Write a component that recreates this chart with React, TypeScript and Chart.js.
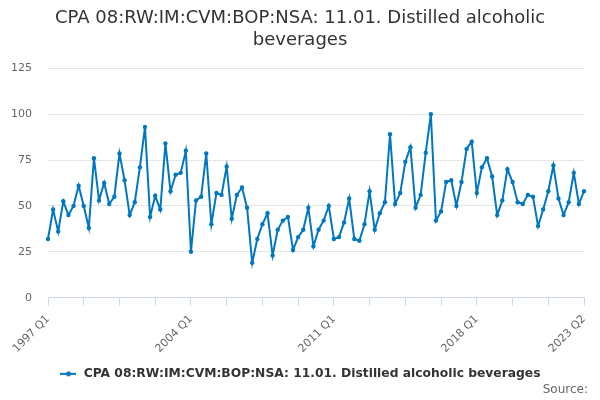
import React, { useEffect, useRef } from "react";
import { Chart, registerables } from "chart.js";

Chart.register(...registerables);

// quarters 1997 Q1 .. 2023 Q2
const years = Array.from({ length: 27 }, (_, i) => 1997 + i);
const quarters = years.flatMap((y) => ["Q1", "Q2", "Q3", "Q4"].map((q) => `${y} ${q}`)).slice(0, 106);

const values = [
  32, 48, 36, 52.5, 45, 50, 61, 50, 38, 76, 53, 62.5, 51, 55, 78.5, 64,
  45, 52, 71, 93, 44, 55.5, 48, 84, 58, 67, 68, 80, 25, 53, 55, 78.5,
  40, 57, 56, 71.5, 43, 56, 60, 49, 19, 32, 40, 46, 23, 37, 42, 44,
  26, 33, 37, 49, 28, 37, 42, 50, 32, 33, 41, 54, 32, 31, 40, 58,
  37, 46, 52, 89, 51, 57, 74, 82, 49, 56, 79, 100, 42, 47, 63, 64,
  50, 63, 81, 85, 57, 71, 76, 66, 45, 53, 70, 63, 52, 51, 56, 55,
  39, 48, 58, 72, 54, 45, 52, 68, 51, 58,
];

const seriesName = "CPA 08:RW:IM:CVM:BOP:NSA: 11.01. Distilled alcoholic beverages";
const titleLines = ["CPA 08:RW:IM:CVM:BOP:NSA: 11.01. Distilled alcoholic", "beverages"];
const sourceText = "Source:";
const lineColor = "#0077c0";
const font = "'DejaVu Sans', Verdana, sans-serif";

const makeMarker = () => {
  const c = document.createElement("canvas");
  c.width = 16;
  c.height = 8;
  const ctx = c.getContext("2d")!;
  ctx.strokeStyle = lineColor;
  ctx.lineWidth = 2;
  ctx.beginPath();
  ctx.moveTo(0, 4);
  ctx.lineTo(16, 4);
  ctx.stroke();
  ctx.fillStyle = lineColor;
  ctx.beginPath();
  ctx.arc(8, 4, 2.5, 0, Math.PI * 2);
  ctx.fill();
  return c;
};

// "Source:" credit in the bottom right corner
const sourcePlugin = {
  id: "sourceCredit",
  afterDraw: (chart: Chart) => {
    const ctx = chart.ctx;
    ctx.save();
    ctx.font = `12px ${font}`;
    ctx.fillStyle = "#666666";
    ctx.textAlign = "right";
    ctx.textBaseline = "middle";
    ctx.fillText(sourceText, chart.width - 12, 390);
    ctx.restore();
  },
};

const App = () => {
  const canvasRef = useRef<HTMLCanvasElement | null>(null);

  useEffect(() => {
    if (!canvasRef.current) return;
    const marker = makeMarker();
    const last = quarters.length - 1;

    const chart = new Chart(canvasRef.current, {
      type: "line",
      data: {
        labels: quarters,
        datasets: [
          {
            label: seriesName,
            data: values,
            borderColor: lineColor,
            backgroundColor: lineColor,
            borderWidth: 2,
            pointRadius: 2.2,
            pointBorderWidth: 0,
            pointHoverRadius: 3,
            tension: 0,
          },
        ],
      },
      options: {
        animation: false,
        responsive: true,
        maintainAspectRatio: false,
        layout: { padding: { left: 6, right: 6, top: 4, bottom: 10 } },
        plugins: {
          title: {
            display: true,
            text: titleLines,
            color: "#333333",
            font: { family: font, size: 18, weight: "normal", lineHeight: 1.2 },
            padding: { top: 4, bottom: 17 },
          },
          legend: {
            position: "bottom",
            labels: {
              usePointStyle: true,
              pointStyle: marker,
              pointStyleWidth: 18,
              color: "#333333",
              font: { family: font, size: 12.3, weight: "bold" },
              padding: 3,
            },
          },
          tooltip: { enabled: false },
        },
        scales: {
          x: {
            afterFit: (scale) => {
              scale.paddingLeft = 0;
              scale.paddingRight = 16;
              scale.height = 67;
            },
            grid: {
              display: true,
              drawOnChartArea: false,
              drawTicks: true,
              tickLength: 8,
              color: "#ccd6eb",
            },
            border: { display: true, color: "#ccd6eb" },
            ticks: {
              autoSkip: false,
              maxRotation: 45,
              minRotation: 45,
              padding: 7,
              color: "#666666",
              font: { family: font, size: 11 },
              callback: (_v, i) => {
                if (i % 7 !== 0) return null;
                if (i % 28 === 0 || i === last) return quarters[i];
                return "";
              },
            },
          },
          y: {
            min: 0,
            max: 125,
            afterFit: (scale) => {
              scale.width = 42;
            },
            grid: { color: "#e6e6e6", drawTicks: false },
            border: { display: false },
            ticks: {
              stepSize: 25,
              padding: 16,
              color: "#666666",
              font: { family: font, size: 11 },
            },
          },
        },
      },
      plugins: [sourcePlugin],
    });

    return () => {
      chart.destroy();
    };
  }, []);

  return (
    <div style={{ position: "fixed", left: 0, top: 0, width: 600, height: 400, background: "#fff" }}>
      <canvas ref={canvasRef} />
    </div>
  );
};

export default App;
